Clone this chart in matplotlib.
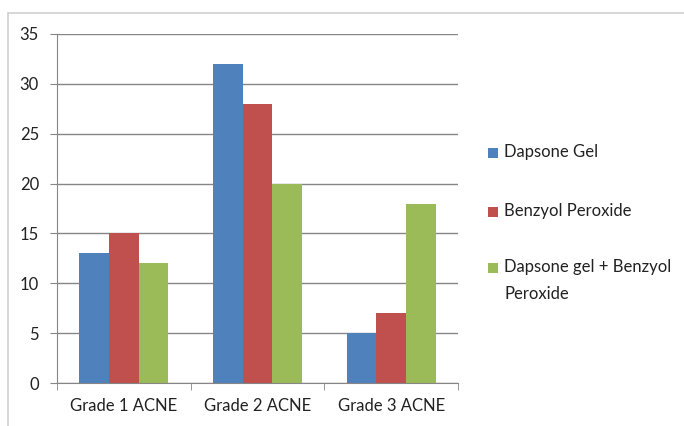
import matplotlib
matplotlib.use("Agg")
import matplotlib.pyplot as plt
import numpy as np
from matplotlib.patches import Rectangle

categories = ["Grade 1 ACNE", "Grade 2 ACNE", "Grade 3 ACNE"]
series_names = ["Dapsone Gel", "Benzyol Peroxide", "Dapsone gel + Benzyol\nPeroxide"]
dapsone = [13, 32, 5]
benzoyl = [15, 28, 7]
combo = [12, 20, 18]
yticks = [0, 5, 10, 15, 20, 25, 30, 35]

colors = ["#4F81BD", "#C0504D", "#9BBB59"]
plt.rcParams['font.family'] = ['Lato', 'DejaVu Sans']
txtcolor = "#222222"

fig = plt.figure(figsize=(6.84, 4.26), dpi=100)
# outer chart border
fig.patches.append(Rectangle((8/684, -0.1), 1.2, 1 - 13/426 + 0.1, transform=fig.transFigure,
                             fill=False, edgecolor="#D0D0D0", linewidth=1.2))
ax = fig.add_axes([57/684, 1 - 383/426, (458-57)/684, (383-34)/426])

x = np.arange(len(categories))
w = 1 / 4.5
for i, (vals, c) in enumerate(zip([dapsone, benzoyl, combo], colors)):
    ax.bar(x + (i - 1) * w, vals, width=w, color=c, zorder=3)

ax.set_xlim(-0.5, 2.5)
ax.set_ylim(0, 35)
ax.set_yticks(yticks)
ax.set_yticklabels([str(v) for v in yticks], fontsize=12, color=txtcolor)
ax.set_xticks(x)
ax.set_xticklabels(categories, fontsize=12, color=txtcolor)
ax.set_xticks([-0.5, 0.5, 1.5, 2.5], minor=True)
ax.tick_params(axis='x', which='major', length=0, pad=10.5)
ax.tick_params(axis='x', which='minor', length=5, color="#868686", direction='out')
ax.tick_params(axis='y', length=5, color="#868686", direction='out', pad=8)
ax.grid(axis='y', color="#868686", linewidth=1, zorder=0)
for s in ['top', 'right']:
    ax.spines[s].set_visible(False)
for s in ['left', 'bottom']:
    ax.spines[s].set_color("#868686")
    ax.spines[s].set_zorder(4)

# legend drawn manually
leg_y = [153, 212, 268]
for name, c, yy in zip(series_names, colors, leg_y):
    fig.patches.append(Rectangle((488/684, 1 - (yy + 5)/426), 10/684, 10/426,
                                 transform=fig.transFigure, facecolor=c, edgecolor='none'))
    fig.text(504/684, 1 - (yy - 9)/426, name, fontsize=12, va='top', ha='left',
             linespacing=1.82, color=txtcolor)

fig.savefig("out.png", dpi=100)
